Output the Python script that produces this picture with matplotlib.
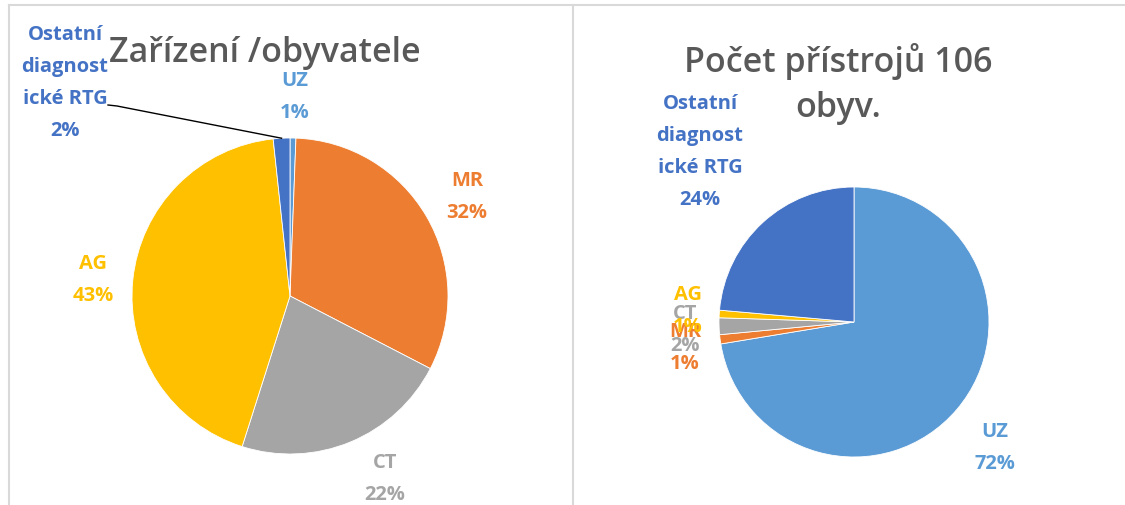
import matplotlib.pyplot as plt
import numpy as np

W, H = 1125, 506

# data
categories = ['UZ', 'MR', 'CT', 'AG', 'Ostatní\ndiagnost\nické RTG']
colors = ['#5B9BD5', '#ED7D31', '#A5A5A5', '#FFC000', '#4472C4']

left_title = 'Zařízení /obyvatele'
left_values = [0.6, 32.0, 22.3, 43.4, 1.7]

right_title = 'Počet přístrojů 106\nobyv.'
right_values = [72.4, 1.1, 2.0, 0.9, 23.6]

# layout (image pixels, y measured from top)
left_center, left_r = (290, 297), 158
right_center, right_r = (854, 323), 135
left_label_pos = [(295, 97), (467, 197), (385, 479), (93, 280), (65, 83)]
right_label_pos = [(995, 448), (685, 348), (685, 330), (688, 311), (700, 152)]

plt.rcParams['font.family'] = ['Open Sans', 'DejaVu Sans']

fig = plt.figure(figsize=(W / 100, H / 100), dpi=100)
ax = fig.add_axes([0, 0, 1, 1])


def Y(y):
    return H - y


def draw_pie(values, center, r, label_pos):
    wedges, _ = ax.pie(values, colors=colors, startangle=90, counterclock=False,
                       center=(center[0], Y(center[1])), radius=r,
                       wedgeprops=dict(linewidth=0.6, edgecolor='white'))
    total = sum(values)
    for i, (cat, v) in enumerate(zip(categories, values)):
        x, y = label_pos[i]
        ax.text(x, Y(y), f'{cat}\n{v / total * 100:.0f}%', ha='center', va='center',
                multialignment='center', fontsize=14.5, fontweight='bold',
                color=colors[i], linespacing=1.8, zorder=5 + i)
    return wedges


left_wedges = draw_pie(left_values, left_center, left_r, left_label_pos)
draw_pie(right_values, right_center, right_r, right_label_pos)

# leader line for the small "Ostatní" slice in the left pie
w = left_wedges[4]
mid = np.deg2rad((w.theta1 + w.theta2) / 2)
ex = w.center[0] + w.r * np.cos(mid)
ey = w.center[1] + w.r * np.sin(mid)
ax.plot([108, 117, ex], [Y(106), Y(107), ey], color='black', lw=1.0, zorder=4)

# titles
ax.text(265, Y(53), left_title, ha='center', va='center', fontsize=24.5,
        fontweight='semibold', color='#595959')
ax.text(838, Y(84), right_title, ha='center', va='center', fontsize=24.5,
        fontweight='semibold', color='#595959', linespacing=1.45)

# panel borders
border = dict(color='#D9D9D9', lw=1.5, zorder=1)
ax.plot([9, 9], [Y(506), Y(6)], **border)
ax.plot([9, W], [Y(6), Y(6)], **border)
ax.plot([572.5, 572.5], [Y(506), Y(6)], **border)

ax.set_xlim(0, W)
ax.set_ylim(0, H)
ax.set_aspect('equal')
ax.axis('off')

fig.savefig('out.png', dpi=100)
